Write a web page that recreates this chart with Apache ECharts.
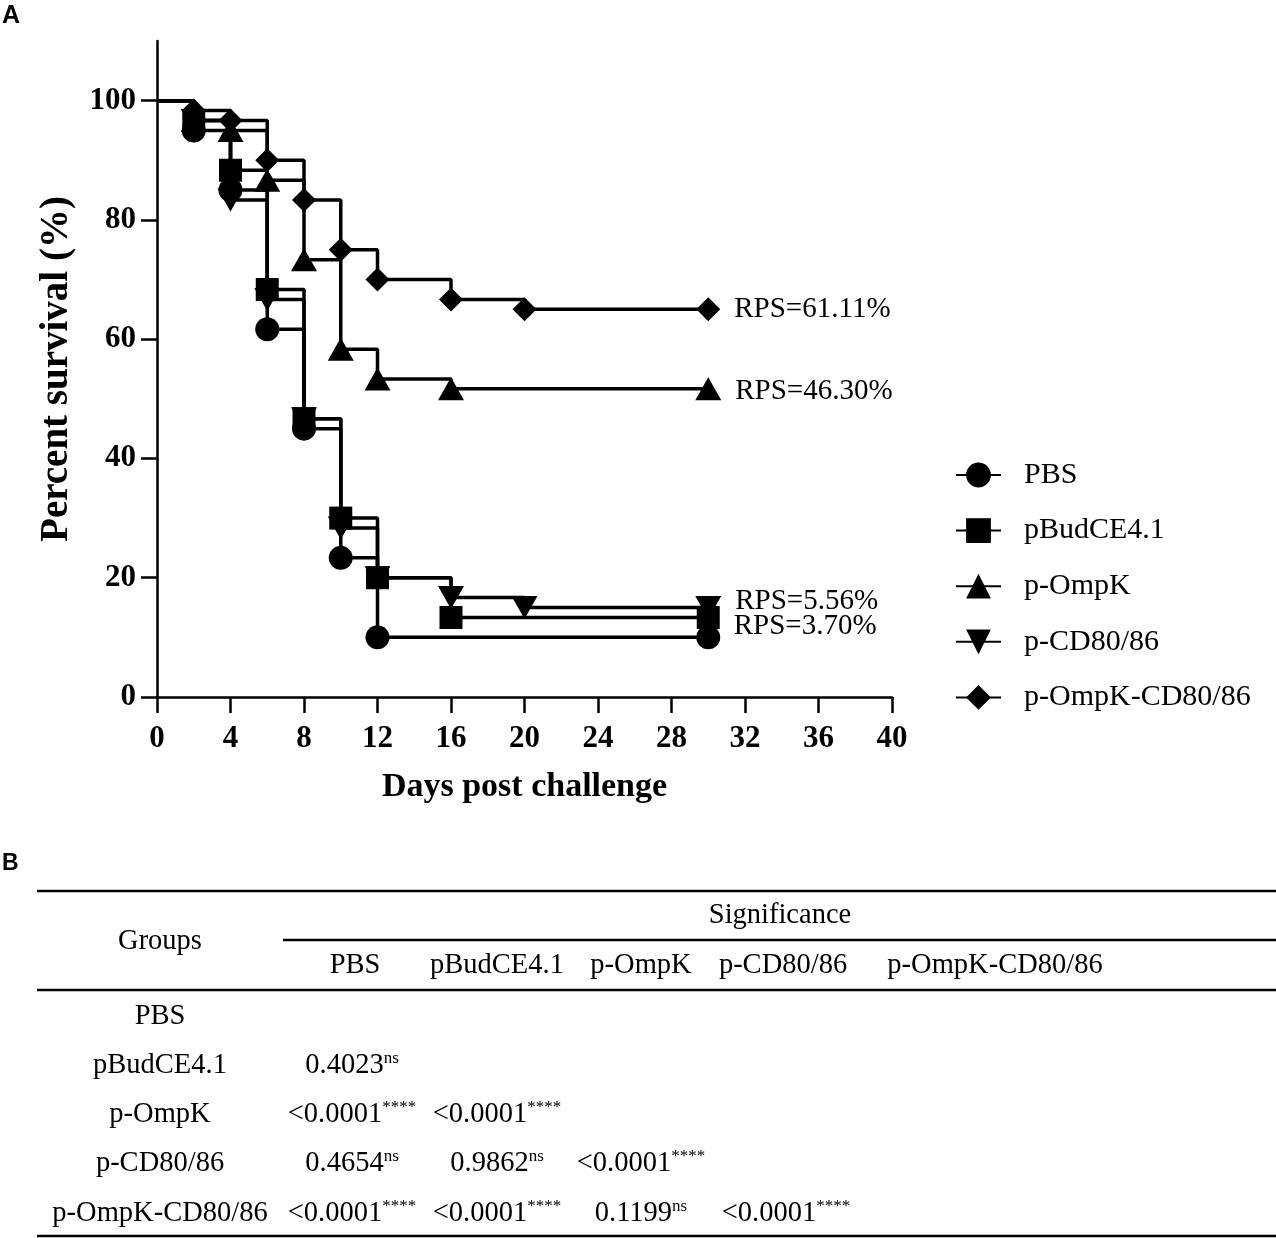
<!DOCTYPE html>
<html>
<head>
<meta charset="utf-8">
<script src="https://cdn.jsdelivr.net/npm/echarts@6.0.0/dist/echarts.min.js"></script>
<style>
html, body { margin: 0; padding: 0; background: #fff; }
#main { width: 1276px; height: 1238px; }
</style>
</head>
<body>
<div id="main"></div>
<script>
// survival data (percent)
var groups = ['PBS', 'pBudCE4.1', 'p-OmpK', 'p-CD80/86', 'p-OmpK-CD80/86'];

var pbsDays = [0, 2, 4, 6, 8, 10, 12, 30];
var pbsSurv = [100, 95, 85, 61.67, 45, 23.33, 10, 10];

var budDays = [0, 2, 4, 6, 8, 10, 12, 16, 30];
var budSurv = [100, 96.67, 88.33, 68.33, 46.67, 30, 20, 13.33, 13.33];

var ompkDays = [0, 2, 4, 6, 8, 10, 12, 16, 30];
var ompkSurv = [100, 96.67, 95, 86.67, 73.33, 58.33, 53.33, 51.67, 51.67];

var cdDays = [0, 2, 4, 6, 8, 10, 12, 16, 20, 30];
var cdSurv = [100, 96.67, 83.33, 66.67, 46.67, 28.33, 20, 16.67, 15, 15];

var comboDays = [0, 2, 4, 6, 8, 10, 12, 16, 20, 30];
var comboSurv = [100, 98.33, 96.67, 90, 83.33, 75, 70, 66.67, 65, 65];

var rpsText = ['', 'RPS=3.70%', 'RPS=46.30%', 'RPS=5.56%', 'RPS=61.11%'];

var yTicks = [0, 20, 40, 60, 80, 100];

// log-rank table
var pValues = [
  [],
  ['0.4023'],
  ['<0.0001', '<0.0001'],
  ['0.4654', '0.9862', '<0.0001'],
  ['<0.0001', '<0.0001', '0.1199', '<0.0001']
];
var pMarks = [
  [],
  ['ns'],
  ['****', '****'],
  ['ns', 'ns', '****'],
  ['****', '****', 'ns', '****']
];

var serif = 'Liberation Serif';
var sans = 'Liberation Sans';

function makeSeries(name, xs, ys, symbol, size, rotate, rps, dy) {
  var data = xs.map(function (x, i) {
    var item = { value: [x, ys[i]] };
    if (i === 0) item.symbol = 'none';
    if (i === xs.length - 1 && rps) {
      item.label = {
        show: true,
        formatter: rps,
        position: 'right',
        distance: 14,
        offset: [0, dy],
        fontFamily: serif,
        fontSize: 29,
        color: '#000'
      };
    }
    return item;
  });
  return {
    name: name,
    type: 'line',
    step: 'end',
    symbol: symbol,
    symbolSize: size,
    symbolRotate: rotate,
    showAllSymbol: true,
    data: data,
    lineStyle: { color: '#000', width: 3.5 },
    itemStyle: { color: '#000', borderWidth: 0 },
    emphasis: { disabled: true }
  };
}

var myChart = echarts.init(document.getElementById('main'));

// table graphics
var tableEls = [];
function hline(y, x1, x2) {
  tableEls.push({
    type: 'line',
    shape: { x1: x1, y1: y, x2: x2, y2: y },
    style: { stroke: '#000', lineWidth: 2.5 }
  });
}
function txt(x, y, text, size, rich) {
  tableEls.push({
    type: 'text',
    x: x,
    y: y,
    style: {
      text: text,
      fontFamily: serif,
      fontSize: size,
      fill: '#000',
      align: 'center',
      verticalAlign: 'middle',
      rich: rich
    }
  });
}
hline(891, 37, 1276);
hline(940, 283, 1276);
hline(990, 37, 1276);
hline(1236, 37, 1276);

var rowY = [1017, 1066, 1115, 1164, 1214];
var headX = [355, 497, 641, 783, 995];
var valX = [352, 497, 641, 786];
var supRich = {
  v: { fontFamily: serif, fontSize: 28.5, lineHeight: 32 },
  s: { fontFamily: serif, fontSize: 17, lineHeight: 17, verticalAlign: 'top' }
};

txt(160, 942, 'Groups', 28.5);
txt(780, 916, 'Significance', 28.5);
groups.forEach(function (g, i) {
  txt(headX[i], 966, g, 28.5);
  txt(160, rowY[i], g, 28.5);
  pValues[i].forEach(function (v, j) {
    txt(valX[j], rowY[i], '{v|' + v + '}{s|' + pMarks[i][j] + '}', 28.5, supRich);
  });
});

tableEls.push({
  type: 'text', x: 2, y: 16,
  style: { text: 'A', fontFamily: sans, fontWeight: 'bold', fontSize: 25, fill: '#000', align: 'left', verticalAlign: 'middle' }
});
tableEls.push({
  type: 'text', x: 2, y: 864,
  style: { text: 'B', fontFamily: sans, fontWeight: 'bold', fontSize: 23, fill: '#000', align: 'left', verticalAlign: 'middle' }
});

myChart.setOption({
  animation: false,
  backgroundColor: '#fff',
  textStyle: { fontFamily: serif, color: '#000' },
  grid: {
    left: 157,
    right: 384,
    top: 41,
    bottom: 541,
    containLabel: false,
    outerBoundsMode: 'none'
  },
  legend: {
    orient: 'vertical',
    left: 950,
    top: 455,
    itemWidth: 45,
    itemHeight: 31,
    itemGap: 25.6,
    selectedMode: false,
    textStyle: { fontFamily: serif, fontSize: 30, color: '#000', padding: [0, 0, 0, 18] },
    data: groups
  },
  xAxis: {
    type: 'value',
    min: 0,
    max: 40,
    interval: 4,
    name: 'Days post challenge',
    nameLocation: 'middle',
    nameGap: 73,
    nameTextStyle: { fontFamily: serif, fontSize: 34, fontWeight: 'bold', color: '#000' },
    axisLine: { show: true, lineStyle: { color: '#000', width: 2.5 } },
    axisTick: { show: true, length: 16, lineStyle: { color: '#000', width: 2.5 } },
    axisLabel: { margin: 26, fontFamily: serif, fontSize: 31, fontWeight: 'bold', color: '#000' },
    splitLine: { show: false }
  },
  yAxis: {
    type: 'value',
    min: 0,
    max: 110,
    name: 'Percent survival (%)',
    nameLocation: 'middle',
    nameGap: 81,
    nameTextStyle: { fontFamily: serif, fontSize: 39, fontWeight: 'bold', color: '#000' },
    axisLine: { show: true, lineStyle: { color: '#000', width: 2.5 } },
    axisTick: { show: true, length: 16, customValues: yTicks, lineStyle: { color: '#000', width: 2.5 } },
    axisLabel: {
      margin: 21, fontFamily: serif, fontSize: 31, fontWeight: 'bold', color: '#000',
      customValues: yTicks,
      formatter: function (v) { return v > 100 ? '' : v; }
    },
    splitLine: { show: false }
  },
  graphic: tableEls,
  series: [
    makeSeries(groups[0], pbsDays, pbsSurv, 'circle', 24, 0, rpsText[0], 0),
    makeSeries(groups[1], budDays, budSurv, 'rect', 23, 0, rpsText[1], 9),
    makeSeries(groups[2], ompkDays, ompkSurv, 'triangle', [26, 23], 0, rpsText[2], 3),
    makeSeries(groups[3], cdDays, cdSurv, 'triangle', [26, 23], 180, rpsText[3], -6),
    makeSeries(groups[4], comboDays, comboSurv, 'diamond', 24, 0, rpsText[4], 0)
  ]
});
</script>
</body>
</html>
